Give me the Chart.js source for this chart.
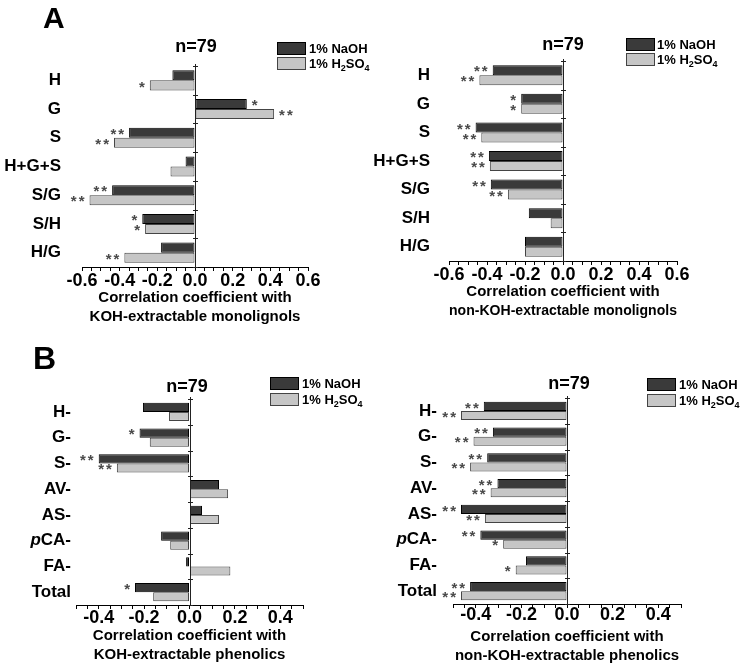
<!DOCTYPE html>
<html>
<head>
<meta charset="utf-8">
<script src="https://cdn.jsdelivr.net/npm/chart.js@4.4.1/dist/chart.umd.min.js"></script>
<style>
  html, body { margin:0; padding:0; background:#fff; }
  #wrap { position:relative; width:744px; height:666px; overflow:hidden; background:#fff;
          font-family:'Liberation Sans', Arial, sans-serif; color:#000; }
  canvas { position:absolute; }
  .lbl { position:absolute; font-weight:bold; line-height:1; white-space:nowrap; }
  .n { position:absolute; font-weight:bold; font-size:18px; line-height:1; transform:translate(-50%,-50%); white-space:nowrap; }
  .box { position:absolute; width:27px; height:11px; }
  .dark { background:#3a3a3a; border:1px solid #000; }
  .light { background:#c6c6c6; border:1px solid #444; }
  .lt { position:absolute; font-weight:bold; font-size:13px; line-height:13px; white-space:nowrap; }
  .lt sub { font-size:9px; vertical-align:-3px; line-height:0; }
</style>
</head>
<body>
<div id="wrap">
  <canvas id="cA1" width="372" height="330" style="left:0;top:0"></canvas>
  <canvas id="cA2" width="372" height="330" style="left:372px;top:0"></canvas>
  <canvas id="cB1" width="372" height="336" style="left:0;top:330px"></canvas>
  <canvas id="cB2" width="372" height="336" style="left:372px;top:330px"></canvas>

  <div class="lbl" style="left:43px;top:3px;font-size:30px">A</div>
  <div class="lbl" style="left:33px;top:342px;font-size:32px">B</div>

  <div class="n" style="left:196px;top:46px">n=79</div>
  <div class="n" style="left:563px;top:44px">n=79</div>
  <div class="n" style="left:187px;top:386px">n=79</div>
  <div class="n" style="left:569px;top:383px">n=79</div>

  <div class="box dark"  style="left:277px;top:42px"></div>
  <div class="box light" style="left:277px;top:57px"></div>
  <div class="lt" style="left:309px;top:42px">1% NaOH</div>
  <div class="lt" style="left:309px;top:57px">1% H<sub>2</sub>SO<sub>4</sub></div>

  <div class="box dark"  style="left:626px;top:38px"></div>
  <div class="box light" style="left:626px;top:53px"></div>
  <div class="lt" style="left:657px;top:38px">1% NaOH</div>
  <div class="lt" style="left:657px;top:53px">1% H<sub>2</sub>SO<sub>4</sub></div>

  <div class="box dark"  style="left:270px;top:377px"></div>
  <div class="box light" style="left:270px;top:393px"></div>
  <div class="lt" style="left:302px;top:377px">1% NaOH</div>
  <div class="lt" style="left:302px;top:393px">1% H<sub>2</sub>SO<sub>4</sub></div>

  <div class="box dark"  style="left:647px;top:378px"></div>
  <div class="box light" style="left:647px;top:394px"></div>
  <div class="lt" style="left:679px;top:378px">1% NaOH</div>
  <div class="lt" style="left:679px;top:394px">1% H<sub>2</sub>SO<sub>4</sub></div>
</div>
<script>
// ---------- data ----------
const seriesNames = ['1% NaOH', '1% H2SO4'];
const catsA = ['H', 'G', 'S', 'H+G+S', 'S/G', 'S/H', 'H/G'];
const catsB = ['H-', 'G-', 'S-', 'AV-', 'AS-', 'pCA-', 'FA-', 'Total'];

// Panel A, KOH-extractable monolignols
const a1NaOH  = [-0.12, 0.275, -0.35, -0.05, -0.44, -0.28, -0.18];
const a1H2SO4 = [-0.24, 0.42, -0.43, -0.13, -0.56, -0.265, -0.375];
const a1StarsNaOH  = ['', '*', '**', '', '**', '*', ''];
const a1StarsH2SO4 = ['*', '**', '**', '', '**', '*', '**'];

// Panel A, non-KOH-extractable monolignols
const a2NaOH  = [-0.37, -0.22, -0.46, -0.39, -0.38, -0.18, -0.20];
const a2H2SO4 = [-0.44, -0.22, -0.43, -0.385, -0.29, -0.065, -0.20];
const a2StarsNaOH  = ['**', '*', '**', '**', '**', '', ''];
const a2StarsH2SO4 = ['**', '*', '**', '**', '**', '', ''];

// Panel B, KOH-extractable phenolics
const b1NaOH  = [-0.205, -0.22, -0.40, 0.13, 0.055, -0.125, -0.015, -0.24];
const b1H2SO4 = [-0.09, -0.175, -0.32, 0.17, 0.13, -0.085, 0.18, -0.16];
const b1StarsNaOH  = ['', '*', '**', '', '', '', '', '*'];
const b1StarsH2SO4 = ['', '', '**', '', '', '', '', ''];

// Panel B, non-KOH-extractable phenolics
const b2NaOH  = [-0.365, -0.325, -0.35, -0.305, -0.465, -0.38, -0.18, -0.425];
const b2H2SO4 = [-0.465, -0.41, -0.425, -0.335, -0.36, -0.28, -0.225, -0.465];
const b2StarsNaOH  = ['**', '**', '**', '**', '**', '**', '', '**'];
const b2StarsH2SO4 = ['**', '**', '**', '**', '**', '*', '*', '**'];

const titleLine1 = 'Correlation coefficient with';
const titleA1 = [titleLine1, 'KOH-extractable monolignols'];
const titleA2 = [titleLine1, 'non-KOH-extractable monolignols'];
const titleB1 = [titleLine1, 'KOH-extractable phenolics'];
const titleB2 = [titleLine1, 'non-KOH-extractable phenolics'];

const rangeA = [-0.6, 0.6];
const rangeB = [-0.5, 0.5];

// ---------- drawing ----------
const FONT = "'Liberation Sans', Arial, sans-serif";

const decorPlugin = {
  id: 'decor',
  afterDatasetsDraw(chart) {
    const ctx = chart.ctx;
    const xs = chart.scales.x, ys = chart.scales.y;
    const {top, bottom} = chart.chartArea;
    const x0 = xs.getPixelForValue(0);
    ctx.save();
    // zero line
    ctx.strokeStyle = '#222';
    ctx.lineWidth = 1;
    ctx.beginPath();
    ctx.moveTo(Math.round(x0) + 0.5, top - 2);
    ctx.lineTo(Math.round(x0) + 0.5, bottom);
    ctx.stroke();
    // category boundary ticks
    const n = ys.ticks.length;
    for (let i = 0; i <= n; i++) {
      const y = Math.round(top + i * (bottom - top) / n) + 0.5;
      ctx.beginPath();
      ctx.moveTo(Math.round(x0) - 2, y);
      ctx.lineTo(Math.round(x0) + 3, y);
      ctx.stroke();
    }
    // significance stars
    const stars = chart.options.plugins.decor.stars;
    ctx.fillStyle = '#4a4a4a';
    ctx.font = 'bold 15px ' + FONT;
    ctx.textBaseline = 'middle';
    try { ctx.letterSpacing = '2px'; } catch (e) {}
    chart.data.datasets.forEach((ds, d) => {
      const meta = chart.getDatasetMeta(d);
      meta.data.forEach((el, i) => {
        const s = stars[d][i];
        if (!s) return;
        const v = ds.data[i];
        if (v < 0) { ctx.textAlign = 'right'; ctx.fillText(s, el.x - 3, el.y + 2); }
        else { ctx.textAlign = 'left'; ctx.fillText(s, el.x + 5, el.y + 2); }
      });
    });
    try { ctx.letterSpacing = '0px'; } catch (e) {}
    // italic-p category labels
    const pad = chart.options.scales.y.ticks.padding;
    chart.data.labels.forEach((lab, i) => {
      if (lab.startsWith('p')) {
        const y = ys.getPixelForValue(i);
        const rest = lab.slice(1);
        ctx.fillStyle = '#000';
        ctx.textAlign = 'left';
        ctx.font = 'bold 17px ' + FONT;
        const wRest = ctx.measureText(rest).width;
        ctx.font = 'italic bold 17px ' + FONT;
        const wP = ctx.measureText('p').width;
        const xr = ys.right - pad;
        ctx.fillText('p', xr - wRest - wP, y);
        ctx.font = 'bold 17px ' + FONT;
        ctx.fillText(rest, xr - wRest, y);
      }
    });
    ctx.restore();
  }
};

function makeChart(id, cats, naoh, h2so4, starsN, starsH, range, title, geo) {
  const canvas = document.getElementById(id);
  return new Chart(canvas, {
    type: 'bar',
    data: {
      labels: cats,
      datasets: [
        { label: seriesNames[0], data: naoh, backgroundColor: '#3a3a3a', borderColor: '#000', borderWidth: 1, borderSkipped: false },
        { label: seriesNames[1], data: h2so4, backgroundColor: '#c6c6c6', borderColor: '#444', borderWidth: 1, borderSkipped: false }
      ]
    },
    options: {
      indexAxis: 'y',
      responsive: false,
      animation: false,
      events: [],
      categoryPercentage: 0.7,
      barPercentage: 1.0,
      layout: { padding: { top: geo.top, right: geo.right, left: 0, bottom: 0 } },
      plugins: {
        legend: { display: false },
        tooltip: { enabled: false },
        decor: { stars: [starsN, starsH] }
      },
      scales: {
        x: {
          type: 'linear',
          min: range[0], max: range[1],
          afterFit(s) { s.height = geo.xh; },
          grid: { display: true, drawOnChartArea: false, drawTicks: true, tickLength: 4, color: '#000', lineWidth: 1 },
          border: { display: true, color: '#000', width: 1 },
          ticks: {
            stepSize: 0.05, autoSkip: false, maxRotation: 0, color: '#000',
            padding: geo.tickPad,
            font: { family: FONT, size: 18, weight: 'bold' },
            callback(v) {
              const r = Math.round(v * 100);
              if (Math.abs(r) % 20 !== 0) return '';
              return (Math.round(v * 10) / 10).toFixed(1);
            }
          },
          title: {
            display: true, text: title, color: '#000',
            font: { family: FONT, size: 15, weight: 'bold', lineHeight: 1.3 },
            padding: { top: 0, bottom: geo.titlePad }
          }
        },
        y: {
          type: 'category',
          afterFit(s) { s.width = geo.left; },
          grid: { display: false, drawTicks: false },
          border: { display: false },
          ticks: {
            color: '#000', padding: geo.labelPad, autoSkip: false,
            font: { family: FONT, size: 17, weight: 'bold' },
            callback(v, i) { const l = cats[i]; return l.startsWith('p') ? '' : l; }
          }
        }
      }
    },
    plugins: [decorPlugin]
  });
}

makeChart('cA1', catsA, a1NaOH, a1H2SO4, a1StarsNaOH, a1StarsH2SO4, rangeA, titleA1,
  { left: 82, right: 64, top: 66, xh: 63, tickPad: -1, titlePad: 3, labelPad: 21 });
makeChart('cA2', catsA, a2NaOH, a2H2SO4, a2StarsNaOH, a2StarsH2SO4, rangeA, titleA2,
  { left: 77, right: 67, top: 61, xh: 69, tickPad: -1, titlePad: 9, labelPad: 19 });
makeChart('cB1', catsB, b1NaOH, b1H2SO4, b1StarsNaOH, b1StarsH2SO4, rangeB, titleB1,
  { left: 76, right: 69, top: 69, xh: 61, tickPad: -2, titlePad: 1, labelPad: 5 });
makeChart('cB2', catsB, b2NaOH, b2H2SO4, b2StarsNaOH, b2StarsH2SO4, rangeB, titleB2,
  { left: 81, right: 63, top: 68, xh: 62, tickPad: -4, titlePad: 0, labelPad: 16 });
</script>
</body>
</html>
